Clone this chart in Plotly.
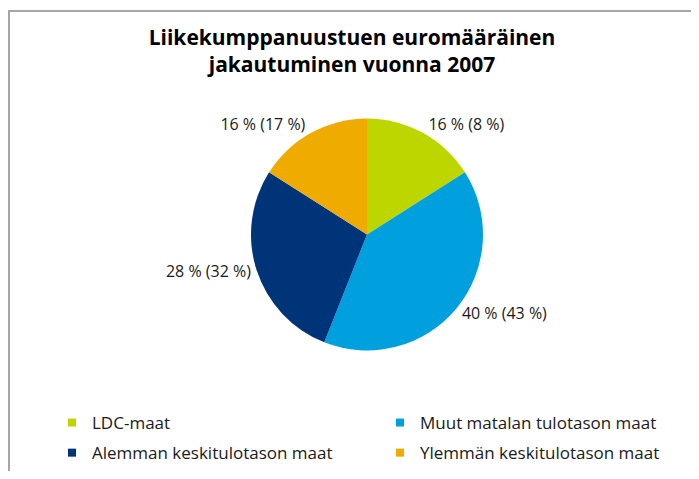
import plotly.graph_objects as go

# Data
categories = ["LDC-maat", "Muut matalan tulotason maat",
              "Alemman keskitulotason maat", "Ylemmän keskitulotason maat"]
share_2007 = [16, 40, 28, 16]      # % of euro amount
share_count = [8, 43, 32, 17]      # figure in parentheses
colors = ["#BED600", "#00A0DF", "#003479", "#F0AB00"]
legend_column = ["legend", "legend2", "legend", "legend2"]

# page body keeps its default 8px margin, so draw a figure that fits inside it
OFF = 8
W, H = 699 - 2 * OFF, 479 - 2 * OFF


def px_x(x):
    return (x - OFF) / W


def px_y(y):
    return 1 - (y - OFF) / H


fig = go.Figure()

fig.add_trace(go.Pie(
    labels=categories,
    values=share_2007,
    customdata=share_count,
    texttemplate="%{value} % (%{customdata} %)",
    textposition="outside",
    textfont=dict(family="Open Sans", size=16, color="#1a1a1a"),
    marker=dict(colors=colors, line=dict(width=0)),
    sort=False,
    direction="clockwise",
    rotation=0,
    showlegend=False,
    hoverinfo="label+value",
    domain=dict(x=[px_x(367 - 116), px_x(367 + 116)],
                y=[px_y(350.5), px_y(118.5)]),
))

# legend entries as small squares, two columns
for i, (name, c, lg) in enumerate(zip(categories, colors, legend_column)):
    fig.add_trace(go.Scatter(
        x=[None], y=[None], mode="markers", name=name,
        marker=dict(symbol="square", size=8, color=c),
        legend=lg, legendgroup=str(i),
    ))

# frame around the chart area (open on the right and bottom like the original crop)
fig.add_shape(type="rect", xref="paper", yref="paper",
              x0=px_x(9), x1=1.05, y0=-0.05, y1=px_y(11),
              line=dict(color="#A6A6A6", width=2))

legend_style = dict(
    orientation="v", yanchor="top", xanchor="left",
    font=dict(family="Open Sans", size=17, color="#1a1a1a"),
    itemwidth=30, bgcolor="rgba(0,0,0,0)", tracegroupgap=5,
)

fig.update_layout(
    width=W, height=H,
    margin=dict(l=0, r=0, t=0, b=0),
    paper_bgcolor="white", plot_bgcolor="white",
    title=dict(
        text="Liikekumppanuustuen euromääräinen<br>jakautuminen vuonna 2007",
        x=px_x(352), xanchor="center", y=px_y(45), yanchor="middle",
        font=dict(family="Open Sans", size=21, color="black", weight="bold"),
    ),
    xaxis=dict(visible=False), yaxis=dict(visible=False),
    legend=dict(x=px_x(52), y=px_y(405), **legend_style),
    legend2=dict(x=px_x(380), y=px_y(405), **legend_style),
)

fig.write_html("out.html")
